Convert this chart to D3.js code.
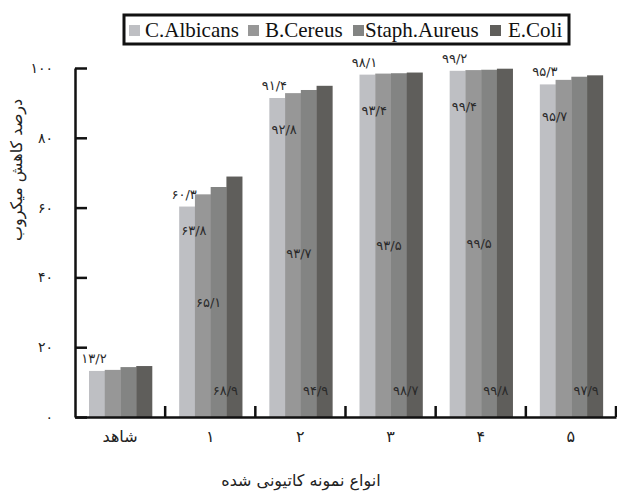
<!DOCTYPE html>
<html>
<head>
<meta charset="utf-8">
<script src="https://cdn.jsdelivr.net/npm/d3@7"></script>
<style>
  body { margin: 0; background: #fff; }
  svg { display: block; }
</style>
</head>
<body>
<div id="chart"></div>
<script>
const width = 617;
const height = 493;

// data
const categories = ["شاهد", "۱", "۲", "۳", "۴", "۵"];
const seriesNames = ["C.Albicans", "B.Cereus", "Staph.Aureus", "E.Coli"];
const albicans = [13.2, 60.3, 91.4, 98.1, 99.2, 95.3];
const cereus = [13.5, 63.8, 92.8, 98.4, 99.4, 96.6];
const aureus = [14.3, 65.9, 93.7, 98.5, 99.5, 97.5];
const coli = [14.6, 68.9, 94.9, 98.7, 99.8, 97.9];
const yTicks = [0, 20, 40, 60, 80, 100];
// value labels as printed in the picture (per group, per bar)
const barLabels = [
  ["۱۳/۲", "", "", ""],
  ["۶۰/۳", "۶۳/۸", "۶۵/۱", "۶۸/۹"],
  ["۹۱/۴", "۹۲/۸", "۹۳/۷", "۹۴/۹"],
  ["۹۸/۱", "۹۳/۴", "۹۳/۵", "۹۸/۷"],
  ["۹۹/۲", "۹۹/۴", "۹۹/۵", "۹۹/۸"],
  ["۹۵/۳", "۹۵/۷", "", "۹۷/۹"]
];

const colors = ["#bebfc3", "#979797", "#838483", "#5f5e5b"];
const series = [albicans, cereus, aureus, coli];

function fa(n) {
  return String(n).replace(/\d/g, d => "۰۱۲۳۴۵۶۷۸۹"[d]);
}

const svg = d3.select("#chart")
  .append("svg")
  .attr("width", width)
  .attr("height", height);

const x0 = d3.scaleBand()
  .domain(categories)
  .range([75, 616]);

const x1 = d3.scaleBand()
  .domain(seriesNames)
  .range([14, 77]);

const yScale = d3.scaleLinear()
  .domain([0, 100])
  .range([417, 68]);

/* bars */
const groups = svg.selectAll("g.group")
  .data(categories)
  .enter()
  .append("g")
  .attr("class", "group")
  .attr("transform", d => "translate(" + x0(d) + ",0)");

groups.selectAll("rect")
  .data((d, i) => series.map((s, j) => ({ key: seriesNames[j], value: s[i], c: j })))
  .enter()
  .append("rect")
  .attr("x", d => x1(d.key))
  .attr("y", d => yScale(d.value))
  .attr("width", x1.bandwidth() + 0.3)
  .attr("height", d => yScale(0) - yScale(d.value))
  .style("fill", d => colors[d.c]);

/* value labels, placed like in the picture */
groups.each(function(cat, i) {
  const g = d3.select(this);
  const labs = barLabels[i];
  const bx = seriesNames.map(s => x1(s));
  const pos = [
    [bx[0] + 5, yScale(series[0][i]) - 8],
    [bx[1] - 1, yScale(series[1][i]) + 41],
    [bx[2] - 2, (yScale(series[2][i]) + yScale(0)) / 2 + 5],
    [bx[3] - 1, yScale(0) - 22]
  ];
  labs.forEach((t, j) => {
    if (!t) return;
    g.append("text")
      .attr("x", pos[j][0])
      .attr("y", pos[j][1])
      .attr("text-anchor", "middle")
      .attr("direction", "ltr")
      .style("font-family", "DejaVu Sans")
      .style("font-size", "13px")
      .style("fill", "#2a2a2a")
      .text(t);
  });
});

/* y axis */
const yAxis = d3.axisLeft(yScale)
  .tickValues(yTicks)
  .tickSizeInner(-12)
  .tickSizeOuter(0)
  .tickPadding(22)
  .tickFormat(fa);

const gy = svg.append("g")
  .attr("transform", "translate(75,0)")
  .call(yAxis);
gy.select(".domain").attr("stroke", "#111").attr("stroke-width", 2.5);
gy.selectAll(".tick line").attr("stroke", "#111").attr("stroke-width", 2.5);
gy.selectAll(".tick text")
  .style("font-family", "DejaVu Sans")
  .style("font-size", "14px")
  .style("fill", "#222");

/* x axis */
const xAxis = d3.axisBottom(x0)
  .tickSize(0)
  .tickPadding(14);

const gx = svg.append("g")
  .attr("transform", "translate(0,417)")
  .call(xAxis);
gx.select(".domain").attr("stroke", "#111").attr("stroke-width", 2.5);
gx.selectAll(".tick text")
  .style("font-family", "DejaVu Sans")
  .style("font-size", "16px")
  .style("fill", "#222");

// boundary ticks between groups
gx.selectAll("line.sep")
  .data(categories)
  .enter()
  .append("line")
  .attr("class", "sep")
  .attr("x1", d => x0(d) + x0.bandwidth())
  .attr("x2", d => x0(d) + x0.bandwidth())
  .attr("y1", 0)
  .attr("y2", -11)
  .attr("stroke", "#111")
  .attr("stroke-width", 2.5);

/* axis titles */
svg.append("text")
  .attr("transform", "translate(22,170) rotate(-90)")
  .attr("text-anchor", "middle")
  .style("font-family", "DejaVu Sans")
  .style("font-size", "16px")
  .style("fill", "#222")
  .text("درصد کاهش میکروب");

svg.append("text")
  .attr("x", 301)
  .attr("y", 486)
  .attr("text-anchor", "middle")
  .style("font-family", "DejaVu Sans")
  .style("font-size", "16px")
  .style("fill", "#222")
  .text("انواع نمونه کاتیونی شده");

/* legend */
const legend = svg.append("g");
legend.append("rect")
  .attr("x", 124)
  .attr("y", 15)
  .attr("width", 445)
  .attr("height", 29)
  .attr("fill", "#fff")
  .attr("stroke", "#111")
  .attr("stroke-width", 3);

const legendSquareX = [129, 248, 353, 490];
const legendTextX = [145, 265, 365, 508];
seriesNames.forEach((name, i) => {
  legend.append("rect")
    .attr("x", legendSquareX[i])
    .attr("y", 25)
    .attr("width", 11)
    .attr("height", 11)
    .attr("fill", colors[i]);
  legend.append("text")
    .attr("x", legendTextX[i])
    .attr("y", 37)
    .style("font-family", "Liberation Serif")
    .style("font-size", "21px")
    .style("fill", "#111")
    .text(name);
});
</script>
</body>
</html>
